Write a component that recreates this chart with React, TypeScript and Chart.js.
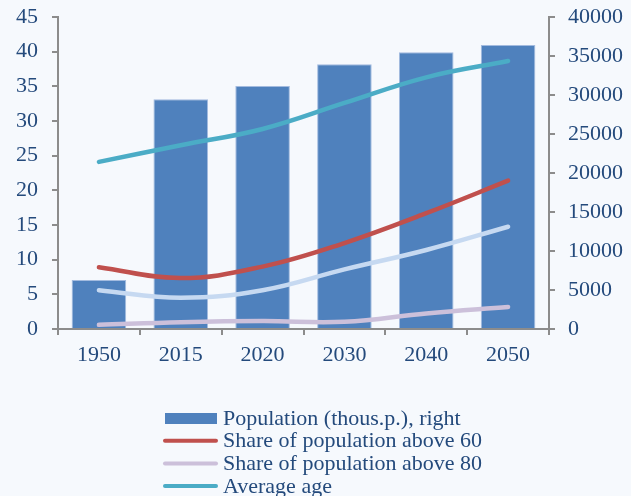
import React, { useEffect, useRef } from "react";
import { Chart, registerables } from "chart.js";

Chart.register(...registerables);

const categories = ["1950", "2015", "2020", "2030", "2040", "2050"];
const population = [6280, 29450, 31150, 33940, 35470, 36410];
const shareAbove60 = [8.9, 7.35, 9.0, 12.4, 16.7, 21.4];
const shareAbove65 = [5.6, 4.5, 5.6, 8.6, 11.4, 14.75];
const shareAbove80 = [0.6, 0.98, 1.15, 1.05, 2.25, 3.17];
const averageAge = [24.1, 26.5, 28.85, 32.6, 36.3, 38.65];

const leftTicks = { min: 0, max: 45, step: 5 };
const rightTicks = { min: 0, max: 40000, step: 5000 };

const TEXT = "#244a7c";
const AXIS = "#8c8c8c";
const BG = "#f6f9fd";
const FONT = "Liberation Serif";

const legendPlugin = {
  id: "vertLegend",
  afterDraw(chart: any) {
    const ctx = chart.ctx;
    const x0 = 164;
    const sw = 53;
    const tx = 223;
    const y0 = 418;
    const step = 22.7;
    let row = 0;
    ctx.save();
    ctx.font = `22px "${FONT}"`;
    ctx.textBaseline = "middle";
    ctx.textAlign = "left";
    chart.data.datasets.forEach((ds: any) => {
      if (ds.hideInLegend) return;
      const y = y0 + row * step;
      if (ds.type === "bar") {
        ctx.fillStyle = ds.backgroundColor;
        ctx.fillRect(x0 + 1, y - 5, sw - 1, 11);
      } else {
        ctx.strokeStyle = ds.borderColor;
        ctx.lineWidth = 4;
        ctx.lineCap = "round";
        ctx.beginPath();
        ctx.moveTo(x0 + 1, y);
        ctx.lineTo(x0 + sw - 1, y);
        ctx.stroke();
      }
      ctx.fillStyle = TEXT;
      ctx.fillText(ds.label, tx, y + 1);
      row++;
    });
    ctx.restore();
  },
};

const bgPlugin = {
  id: "bg",
  beforeDraw(chart: any) {
    const ctx = chart.ctx;
    ctx.save();
    ctx.fillStyle = BG;
    ctx.fillRect(0, 0, chart.width, chart.height);
    ctx.restore();
  },
};

export default function App() {
  const ref = useRef<HTMLCanvasElement>(null);
  useEffect(() => {
    document.body.style.margin = "0";
    document.body.style.background = BG;
    const lineDs = (label: string, data: number[], color: string, extra: any = {}) => ({
      type: "line" as const,
      label,
      data,
      borderColor: color,
      backgroundColor: color,
      borderWidth: 4.5,
      pointRadius: 0,
      tension: 0.4,
      yAxisID: "y",
      order: 1,
      borderCapStyle: "round",
      ...extra,
    });
    const chart = new Chart(ref.current!, {
      type: "bar",
      data: {
        labels: categories,
        datasets: [
          {
            type: "bar",
            label: "Population (thous.p.), right",
            data: population,
            backgroundColor: "#4f81bd",
            borderColor: "#a3bbdf",
            borderWidth: 1,
            yAxisID: "y1",
            barPercentage: 0.667,
            categoryPercentage: 1,
            order: 10,
          } as any,
          lineDs("Share of population above 60", shareAbove60, "#c0504d"),
          lineDs("Share of population above 80", shareAbove80, "#ccc0da"),
          lineDs("Average age", averageAge, "#4bacc6"),
          lineDs("Share of population above 65", shareAbove65, "#c6d9f1", { hideInLegend: true }),
        ],
      },
      options: {
        animation: false,
        responsive: true,
        maintainAspectRatio: false,
        layout: { padding: { top: 17, bottom: 122, left: 0, right: 0 } },
        plugins: { legend: { display: false }, tooltip: { enabled: false }, title: { display: false } },
        scales: {
          x: {
            offset: true,
            grid: { offset: true, drawOnChartArea: false, color: AXIS, tickLength: 6, lineWidth: 2 },
            border: { color: AXIS, width: 2 },
            ticks: { color: TEXT, font: { family: FONT, size: 22 }, padding: 7 },
            afterFit: (s: any) => {
              s.height = 45;
              s.paddingLeft = 0;
              s.paddingRight = 0;
            },
          },
          y: {
            position: "left",
            min: leftTicks.min,
            max: leftTicks.max,
            grid: { drawOnChartArea: false, color: AXIS, tickLength: 6, lineWidth: 2 },
            border: { color: AXIS, width: 2 },
            ticks: { stepSize: leftTicks.step, color: TEXT, font: { family: FONT, size: 22 }, padding: 14 },
            afterFit: (s: any) => {
              s.width = 58;
              s.paddingTop = 0;
              s.paddingBottom = 0;
            },
          },
          y1: {
            position: "right",
            min: rightTicks.min,
            max: rightTicks.max,
            grid: { drawOnChartArea: false, color: AXIS, tickLength: 6, lineWidth: 2 },
            border: { color: AXIS, width: 2 },
            ticks: {
              stepSize: rightTicks.step,
              color: TEXT,
              font: { family: FONT, size: 22 },
              padding: 13,
              callback: (v: any) => String(v),
            },
            afterFit: (s: any) => {
              s.width = 82;
              s.paddingTop = 0;
              s.paddingBottom = 0;
            },
          },
        },
      },
      plugins: [bgPlugin, legendPlugin],
    } as any);
    return () => chart.destroy();
  }, []);
  return (
    <div style={{ width: 631, height: 496, position: "relative", background: BG }}>
      <canvas ref={ref} />
    </div>
  );
}
